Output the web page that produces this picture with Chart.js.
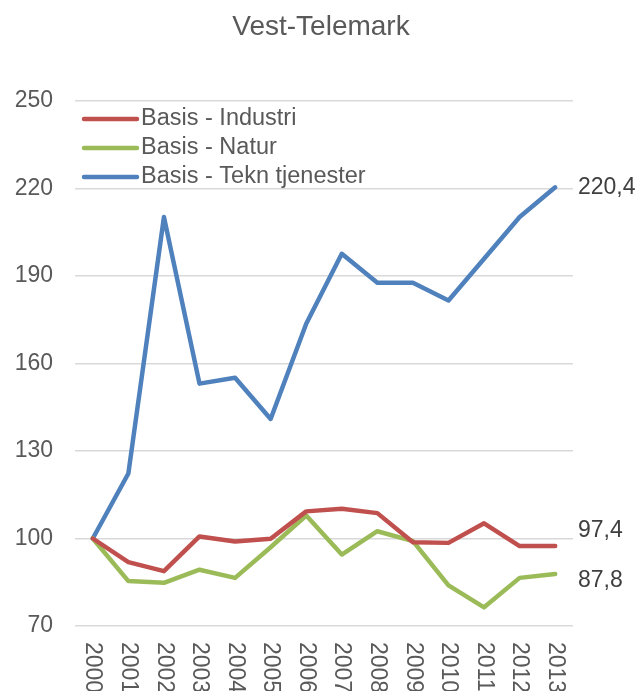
<!DOCTYPE html>
<html lang="no">
<head>
    <meta charset="UTF-8">
    <title>Vest-Telemark</title>
    <script src="https://cdn.jsdelivr.net/npm/chart.js"></script>
    <style>
        body { margin: 0; background: #fff; }
        #chart { display: block; }
    </style>
</head>
<body>
    <canvas id="chart" width="639" height="691"></canvas>

    <script>
        const years = ['2000', '2001', '2002', '2003', '2004', '2005', '2006',
                       '2007', '2008', '2009', '2010', '2011', '2012', '2013'];
        const industri = [100, 91.9, 88.8, 100.7, 99.0, 99.9, 109.3, 110.2, 108.7, 98.7, 98.5, 105.2, 97.4, 97.4];
        const natur = [100, 85.4, 84.8, 89.3, 86.5, 97.0, 107.9, 94.5, 102.5, 99.1, 83.9, 76.4, 86.5, 87.8];
        const tekn = [100, 122.3, 210.2, 153.1, 155.1, 141.0, 173.6, 197.6, 187.7, 187.7, 181.6, 195.9, 210.2, 220.4];
        const yTicks = [70, 100, 130, 160, 190, 220, 250];

        const seriesNames = ['Basis - Industri', 'Basis - Natur', 'Basis - Tekn tjenester'];
        const seriesColors = ['#C0504D', '#9BBB59', '#4F81BD'];
        const endLabels = ['97,4', '87,8', '220,4'];

        const textColor = '#595959';
        const fontFamily = '"Liberation Sans", Arial, sans-serif';

        // title, legend, rotated year labels and end values
        const decorations = {
            id: 'decorations',
            afterDraw(chart) {
                const ctx = chart.ctx;
                const area = chart.chartArea;
                const xs = chart.scales.x;
                const ys = chart.scales.y;
                ctx.save();

                ctx.fillStyle = textColor;
                ctx.font = '28px ' + fontFamily;
                ctx.textAlign = 'center';
                ctx.textBaseline = 'middle';
                ctx.fillText('Vest-Telemark', 321, 27);

                // legend inside the plot
                ctx.font = '23.5px ' + fontFamily;
                ctx.textAlign = 'left';
                seriesNames.forEach((name, i) => {
                    const y = 119 + i * 29;
                    ctx.strokeStyle = seriesColors[i];
                    ctx.lineWidth = 4.5;
                    ctx.lineCap = 'round';
                    ctx.beginPath();
                    ctx.moveTo(84, y);
                    ctx.lineTo(137, y);
                    ctx.stroke();
                    ctx.fillStyle = textColor;
                    ctx.fillText(name, 141, y);
                });

                // years, rotated clockwise
                ctx.font = '23px ' + fontFamily;
                years.forEach((yr, i) => {
                    ctx.save();
                    ctx.translate(xs.getPixelForValue(i), area.bottom + 16);
                    ctx.rotate(Math.PI / 2);
                    ctx.textAlign = 'left';
                    ctx.textBaseline = 'middle';
                    ctx.fillText(yr, 0, 0);
                    ctx.restore();
                });

                // values at the end of each line
                ctx.fillStyle = '#404040';
                ctx.font = '23px ' + fontFamily;
                ctx.textAlign = 'left';
                const last = years.length - 1;
                const ends = [industri[last], natur[last], tekn[last]];
                const nudges = [-15, 7, 0];
                ends.forEach((v, i) => {
                    ctx.fillText(endLabels[i], area.right + 5, ys.getPixelForValue(v) + nudges[i]);
                });

                ctx.restore();
            }
        };

        new Chart(document.getElementById('chart'), {
            type: 'line',
            data: {
                labels: years,
                datasets: [
                    { label: seriesNames[0], data: industri, borderColor: seriesColors[0] },
                    { label: seriesNames[1], data: natur, borderColor: seriesColors[1] },
                    { label: seriesNames[2], data: tekn, borderColor: seriesColors[2] }
                ]
            },
            options: {
                responsive: false,
                animation: false,
                layout: { padding: { top: 101, right: 66, bottom: 65, left: 0 } },
                elements: {
                    line: { borderWidth: 4.5, tension: 0, borderCapStyle: 'round', borderJoinStyle: 'round' },
                    point: { radius: 0 }
                },
                scales: {
                    x: {
                        offset: true,
                        grid: { display: false, drawTicks: false },
                        border: { display: false },
                        ticks: { display: false },
                        afterFit(scale) { scale.height = 0; }
                    },
                    y: {
                        min: 70,
                        max: 250,
                        afterBuildTicks(scale) { scale.ticks = yTicks.map(v => ({ value: v })); },
                        afterFit(scale) { scale.width = 75; },
                        grid: { color: '#D9D9D9', lineWidth: 1.5, drawTicks: false },
                        border: { display: false },
                        ticks: {
                            padding: 22,
                            color: textColor,
                            font: { size: 23, family: fontFamily }
                        }
                    }
                },
                plugins: {
                    legend: { display: false },
                    title: { display: false },
                    tooltip: { enabled: false }
                }
            },
            plugins: [decorations]
        });
    </script>
</body>
</html>
